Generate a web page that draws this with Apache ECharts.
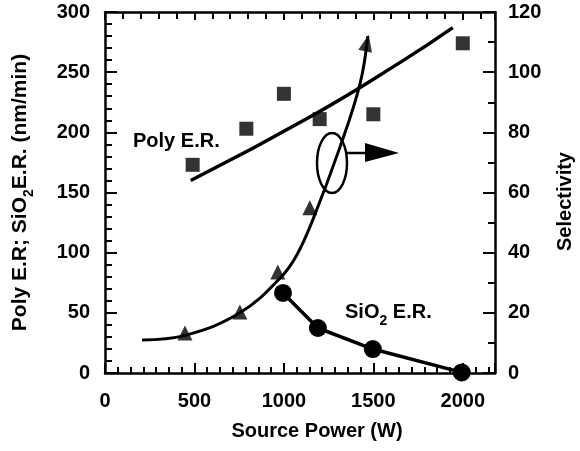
<!DOCTYPE html>
<html>
<head>
<meta charset="utf-8">
<script src="https://cdn.jsdelivr.net/npm/echarts@6/dist/echarts.min.js"></script>
<style>
html,body{margin:0;padding:0;background:#fff;}
#chart{width:580px;height:451px;}
</style>
</head>
<body>
<div id="chart"></div>
<script>
// ---- data ----
const polyPower = [490, 790, 1000, 1200, 1500, 2000];
const polyRate = [173, 203, 232, 211, 215, 274];
const polyFitPower = [479, 1160, 1670, 1944];
const polyFitRate = [160, 214, 260, 287];
const selPower = [447, 754, 966, 1145];
const selValue = [13.3, 20.3, 33.6, 54.9];
const selArrowPower = [1464];
const selArrowValue = [109.7];
const selFitPower = [207, 447, 754, 978, 1070, 1162, 1313, 1425, 1469];
const selFitValue = [11, 12.5, 20, 31.5, 39, 51, 75, 96, 112];
const sio2Power = [995, 1190, 1497, 1994];
const sio2Rate = [66.5, 37.4, 19.9, 0.5];
const xTicks = [0, 500, 1000, 1500, 2000];
const leftTicks = [0, 50, 100, 150, 200, 250, 300];
const rightTicks = [0, 20, 40, 60, 80, 100, 120];

const FONT = 'Liberation Sans';
const zip = (a, b) => a.map((v, i) => [v, b[i]]);

const chart = echarts.init(document.getElementById('chart'));
const mkLine = () => ({show: true, onZero: false, lineStyle: {color: '#000', width: 2.5}});
const mkTick = (len) => ({show: true, inside: true, length: len, lineStyle: {color: '#000', width: 2}});
const mkMinor = (n, len) => ({show: true, splitNumber: n, length: len, lineStyle: {color: '#000', width: 2}});
const mkLabel = (margin, list, extra) => Object.assign({
  show: true, margin: margin, color: '#000', fontFamily: FONT, fontWeight: 'bold', fontSize: 20,
  formatter: v => (list.indexOf(v) >= 0 ? String(v) : '')
}, extra || {});

const option = {
  animation: false,
  grid: {left: 105, right: 85, top: 12, bottom: 78, containLabel: false, outerBoundsMode: 'none'},
  xAxis: [{
    type: 'value', position: 'bottom', min: 0, max: 2180, interval: 500,
    axisLine: mkLine(), axisTick: mkTick(10), minorTick: mkMinor(7, 6),
    splitLine: {show: false},
    axisLabel: mkLabel(18, xTicks, {showMaxLabel: false}),
    name: 'Source Power (W)', nameLocation: 'middle', nameGap: 48,
    nameTextStyle: {color: '#000', fontFamily: FONT, fontWeight: 'bold', fontSize: 20, padding: [0, 0, 0, 34]}
  }, {
    type: 'value', position: 'top', min: 0, max: 2180, interval: 500,
    axisLine: mkLine(), axisTick: mkTick(8), minorTick: mkMinor(5, 7),
    splitLine: {show: false}, axisLabel: {show: false}
  }],
  yAxis: [{
    type: 'value', position: 'left', min: 0, max: 300, interval: 50,
    axisLine: mkLine(), axisTick: mkTick(12), minorTick: mkMinor(5, 7),
    splitLine: {show: false},
    axisLabel: mkLabel(15, leftTicks),
    name: '{a|Poly E.R; SiO}{s|2}{a|E.R. (nm/min)}', nameLocation: 'middle', nameGap: 73,
    nameTextStyle: {color: '#000', fontFamily: FONT, fontWeight: 'bold', fontSize: 21,
      rich: {
        a: {color: '#000', fontFamily: FONT, fontWeight: 'bold', fontSize: 21, lineHeight: 22, verticalAlign: 'top'},
        s: {color: '#000', fontFamily: FONT, fontWeight: 'bold', fontSize: 14, lineHeight: 14, padding: [12, 0, 0, 0], verticalAlign: 'top'}
      }}
  }, {
    type: 'value', position: 'right', min: 0, max: 120, interval: 20,
    axisLine: mkLine(), axisTick: mkTick(12), minorTick: mkMinor(2, 7),
    splitLine: {show: false},
    axisLabel: mkLabel(13, rightTicks),
    name: 'Selectivity', nameLocation: 'middle', nameGap: 60,
    nameTextStyle: {color: '#000', fontFamily: FONT, fontWeight: 'bold', fontSize: 20, padding: [0, 18, 0, 0]}
  }],
  series: [{
    name: 'Poly E.R. fit', type: 'line', xAxisIndex: 0, yAxisIndex: 0,
    data: zip(polyFitPower, polyFitRate), smooth: true, showSymbol: false,
    lineStyle: {color: '#000', width: 3.5}, z: 2
  }, {
    name: 'Poly E.R.', type: 'scatter', xAxisIndex: 0, yAxisIndex: 0,
    data: zip(polyPower, polyRate), symbol: 'rect', symbolSize: 14,
    itemStyle: {color: '#000'}, z: 3
  }, {
    name: 'Selectivity fit', type: 'line', xAxisIndex: 0, yAxisIndex: 1,
    data: zip(selFitPower, selFitValue), smooth: 0.4, showSymbol: false,
    lineStyle: {color: '#000', width: 3}, z: 2
  }, {
    name: 'Selectivity', type: 'scatter', xAxisIndex: 0, yAxisIndex: 1,
    data: zip(selPower, selValue), symbol: 'triangle', symbolSize: 15,
    itemStyle: {color: '#000'}, z: 3
  }, {
    name: 'Selectivity arrow', type: 'scatter', xAxisIndex: 0, yAxisIndex: 1,
    data: zip(selArrowPower, selArrowValue), symbol: 'triangle', symbolSize: [14, 17], symbolRotate: -12,
    itemStyle: {color: '#000'}, z: 3
  }, {
    name: 'SiO2 E.R.', type: 'line', xAxisIndex: 0, yAxisIndex: 0,
    data: zip(sio2Power, sio2Rate), symbol: 'circle', symbolSize: 18, showSymbol: true,
    lineStyle: {color: '#000', width: 3.5}, itemStyle: {color: '#000'}, z: 3
  }],
  graphic: [
    {type: 'text', left: 133, top: 131, style: {text: 'Poly E.R.', fill: '#000', font: 'bold 20px "Liberation Sans"'}},
    {type: 'text', left: 345, top: 302, style: {
      text: '{a|SiO}{s|2}{a| E.R.}', fill: '#000', font: 'bold 20px "Liberation Sans"',
      rich: {
        a: {fill: '#000', font: 'bold 20px "Liberation Sans"', lineHeight: 22, verticalAlign: 'top'},
        s: {fill: '#000', font: 'bold 14px "Liberation Sans"', lineHeight: 14, padding: [12, 0, 0, 0], verticalAlign: 'top'}
      }}},
    {type: 'ellipse', shape: {cx: 332, cy: 163, rx: 15, ry: 30}, style: {fill: 'none', stroke: '#000', lineWidth: 2.5}},
    {type: 'line', shape: {x1: 347, y1: 153, x2: 368, y2: 153}, style: {stroke: '#000', lineWidth: 2.5}},
    {type: 'polygon', shape: {points: [[365, 143], [399, 153], [365, 162]]}, style: {fill: '#000'}}
  ]
};
chart.setOption(option);
</script>
</body>
</html>
